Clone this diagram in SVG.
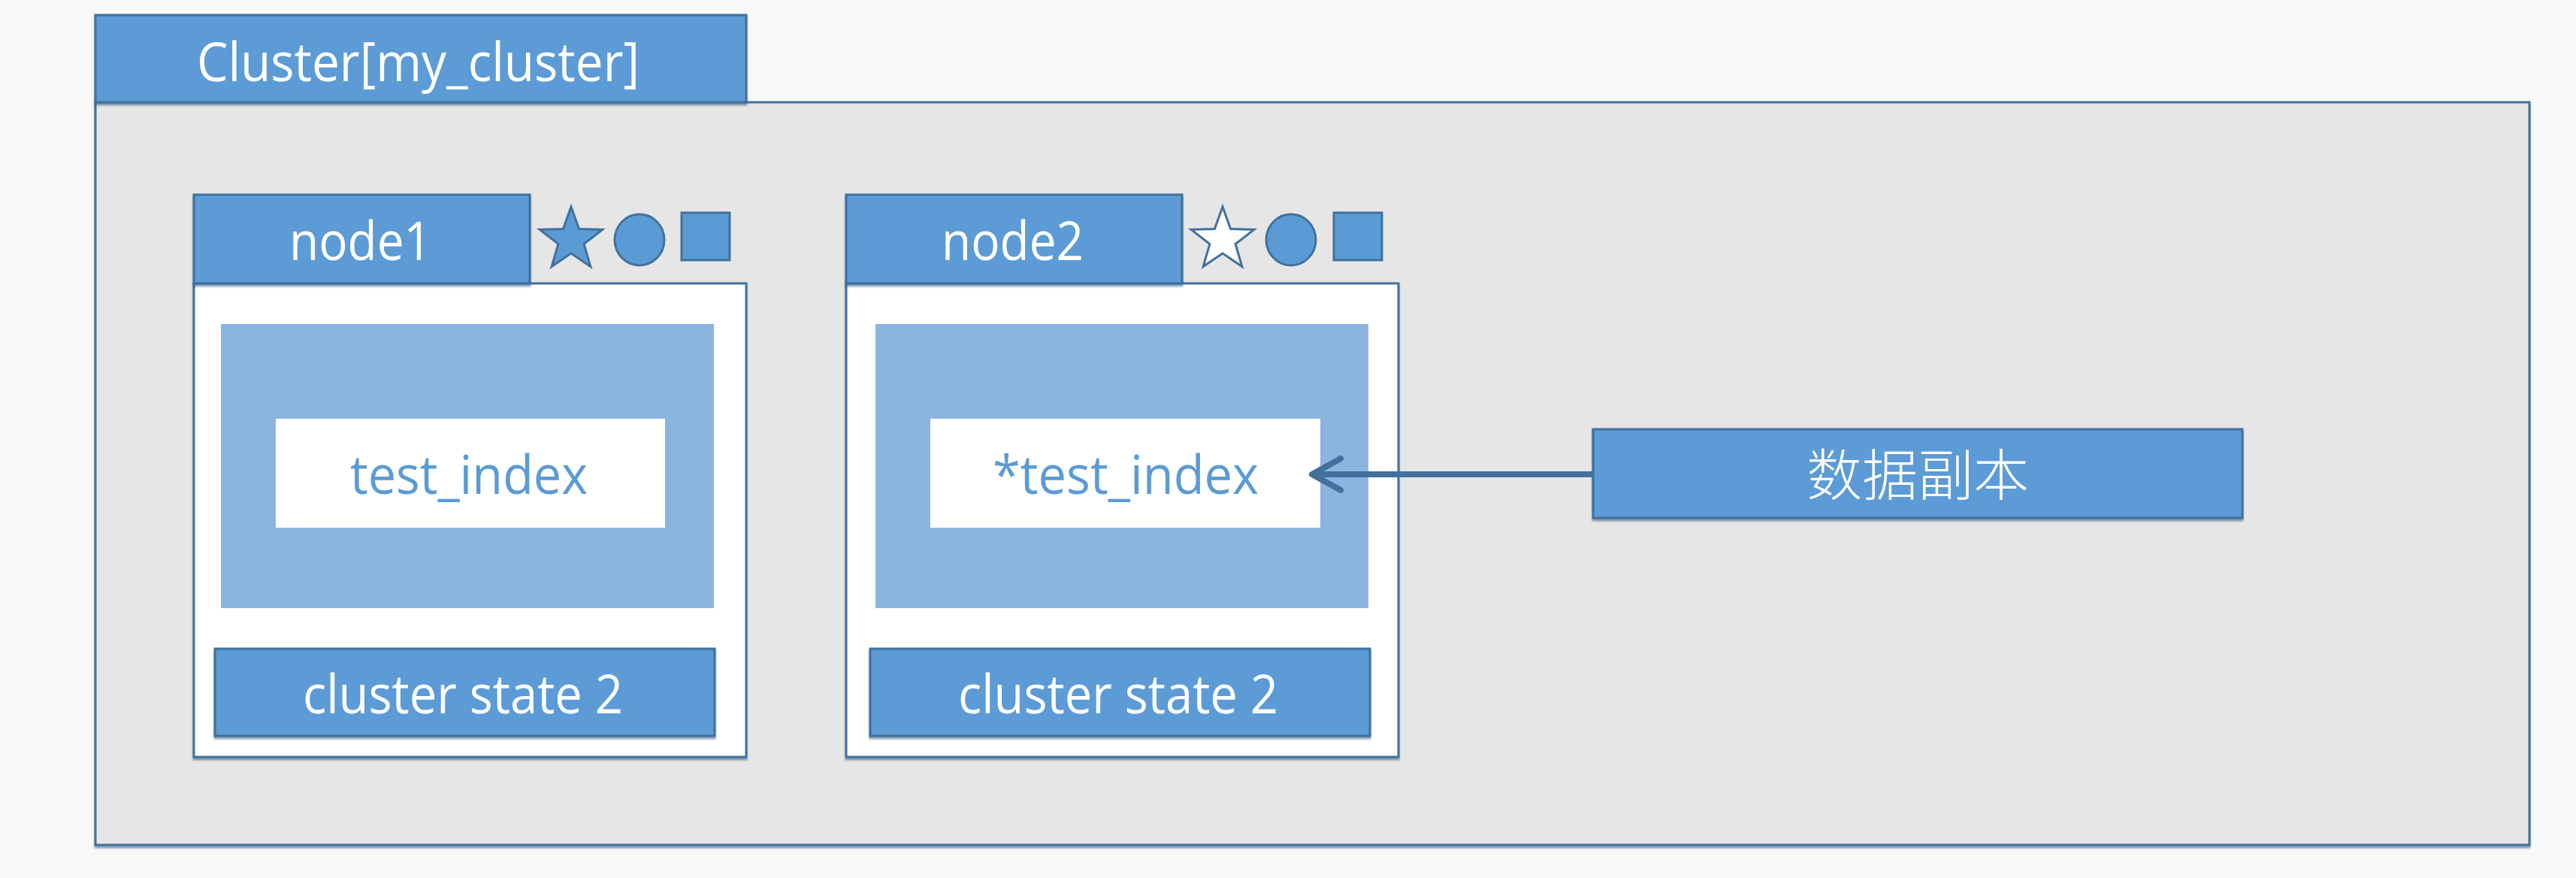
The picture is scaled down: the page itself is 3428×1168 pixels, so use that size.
<svg xmlns="http://www.w3.org/2000/svg" xmlns:xlink="http://www.w3.org/1999/xlink" width="3428" height="1168" viewBox="0 0 3428 1168">
  <style>
    .blue { fill: #5B9BD5; stroke: #41719C; stroke-width: 3; }
    .frame { fill: #E7E6E6; stroke: #41719C; stroke-width: 3; }
    .body { fill: #FFFFFF; stroke: #41719C; stroke-width: 3; }
    .light { fill: #8BB5DF; }
    .white { fill: #FFFFFF; }
    .t { font-family: "Open Sans", "Liberation Sans", sans-serif; font-size: 72px; }
    .tw { fill: #FFFFFF; }
    .tb { fill: #5B9BD5; }
    .cjk { font-family: "Noto Sans CJK SC", "Noto Sans", sans-serif; font-size: 74px; font-weight: 300; fill: #FFFFFF; }
    .conn { stroke: #41719C; stroke-width: 8; fill: none; }
  </style>
  <defs>
    <filter id="sh" x="-5%" y="-5%" width="110%" height="115%">
      <feDropShadow dx="0" dy="3" stdDeviation="1.2" flood-color="#2E5A84" flood-opacity="0.55"/>
    </filter>
    <path id="star" d="M0,-44 L10.58,-14.56 L41.85,-13.6 L17.12,5.56 L25.86,35.6 L0,18 L-25.86,35.6 L-17.12,5.56 L-41.85,-13.6 L-10.58,-14.56 Z"/>
    <marker id="arrow" markerUnits="userSpaceOnUse" viewBox="-50 -30 60 60" markerWidth="60" markerHeight="60" refX="0" refY="0" orient="auto">
      <path d="M-38,-21 L0,0 L-38,21" fill="none" stroke="#41719C" stroke-width="8" stroke-linecap="round" stroke-linejoin="round"/>
    </marker>
  </defs>

  <rect x="0" y="0" width="3428" height="1168" fill="#F8F8F8"/>

  <g id="cluster">
    <rect class="frame" x="127" y="136" width="3239" height="988" filter="url(#sh)"/>
    <rect class="blue" x="127" y="20" width="866" height="116" filter="url(#sh)"/>
    <text class="t tw" x="262" y="108" textLength="589" lengthAdjust="spacingAndGlyphs">Cluster[my_cluster]</text>
  </g>

  <g id="node1">
    <rect class="body" x="258" y="377" width="735" height="630" filter="url(#sh)"/>
    <rect class="blue" x="258" y="259" width="447" height="118" filter="url(#sh)"/>
    <text class="t tw" x="385" y="346" textLength="189" lengthAdjust="spacingAndGlyphs">node1</text>
    <use xlink:href="#star" href="#star" x="760" y="319" fill="#5B9BD5" stroke="#41719C" stroke-width="3"/>
    <ellipse cx="851" cy="319" rx="33" ry="34" fill="#5B9BD5" stroke="#41719C" stroke-width="3"/>
    <rect x="907" y="283" width="64" height="63" fill="#5B9BD5" stroke="#41719C" stroke-width="3"/>
    <rect class="light" x="294" y="431" width="656" height="378"/>
    <g id="node1-index">
      <rect class="white" x="367" y="557" width="518" height="145"/>
      <text class="t tb" x="466" y="657" textLength="316" lengthAdjust="spacingAndGlyphs">test_index</text>
    </g>
    <g id="node1-state">
      <rect class="blue" x="286" y="863" width="665" height="116" filter="url(#sh)"/>
      <text class="t tw" x="403" y="949" textLength="426" lengthAdjust="spacingAndGlyphs">cluster state 2</text>
    </g>
  </g>

  <g id="node2">
    <rect class="body" x="1126" y="377" width="735" height="630" filter="url(#sh)"/>
    <rect class="blue" x="1126" y="259" width="447" height="118" filter="url(#sh)"/>
    <text class="t tw" x="1253" y="346" textLength="189" lengthAdjust="spacingAndGlyphs">node2</text>
    <use xlink:href="#star" href="#star" x="1627" y="319" fill="#FFFFFF" stroke="#41719C" stroke-width="3"/>
    <ellipse cx="1718" cy="319" rx="33" ry="34" fill="#5B9BD5" stroke="#41719C" stroke-width="3"/>
    <rect x="1775" y="283" width="64" height="63" fill="#5B9BD5" stroke="#41719C" stroke-width="3"/>
    <rect class="light" x="1165" y="431" width="656" height="378"/>
    <g id="node2-index">
      <rect class="white" x="1238" y="557" width="519" height="145"/>
      <text class="t tb" x="1321" y="657" textLength="354" lengthAdjust="spacingAndGlyphs">*test_index</text>
    </g>
    <g id="node2-state">
      <rect class="blue" x="1158" y="863" width="665" height="116" filter="url(#sh)"/>
      <text class="t tw" x="1275" y="949" textLength="426" lengthAdjust="spacingAndGlyphs">cluster state 2</text>
    </g>
  </g>

  <g id="replica">
    <rect class="blue" x="2120" y="571" width="864" height="118" filter="url(#sh)"/>
    <text class="cjk" x="2552" y="659" text-anchor="middle">数据副本</text>
  </g>

  <g id="connectors">
    <line class="conn" x1="2120" y1="631" x2="1746" y2="631" marker-end="url(#arrow)"/>
  </g>
</svg>
